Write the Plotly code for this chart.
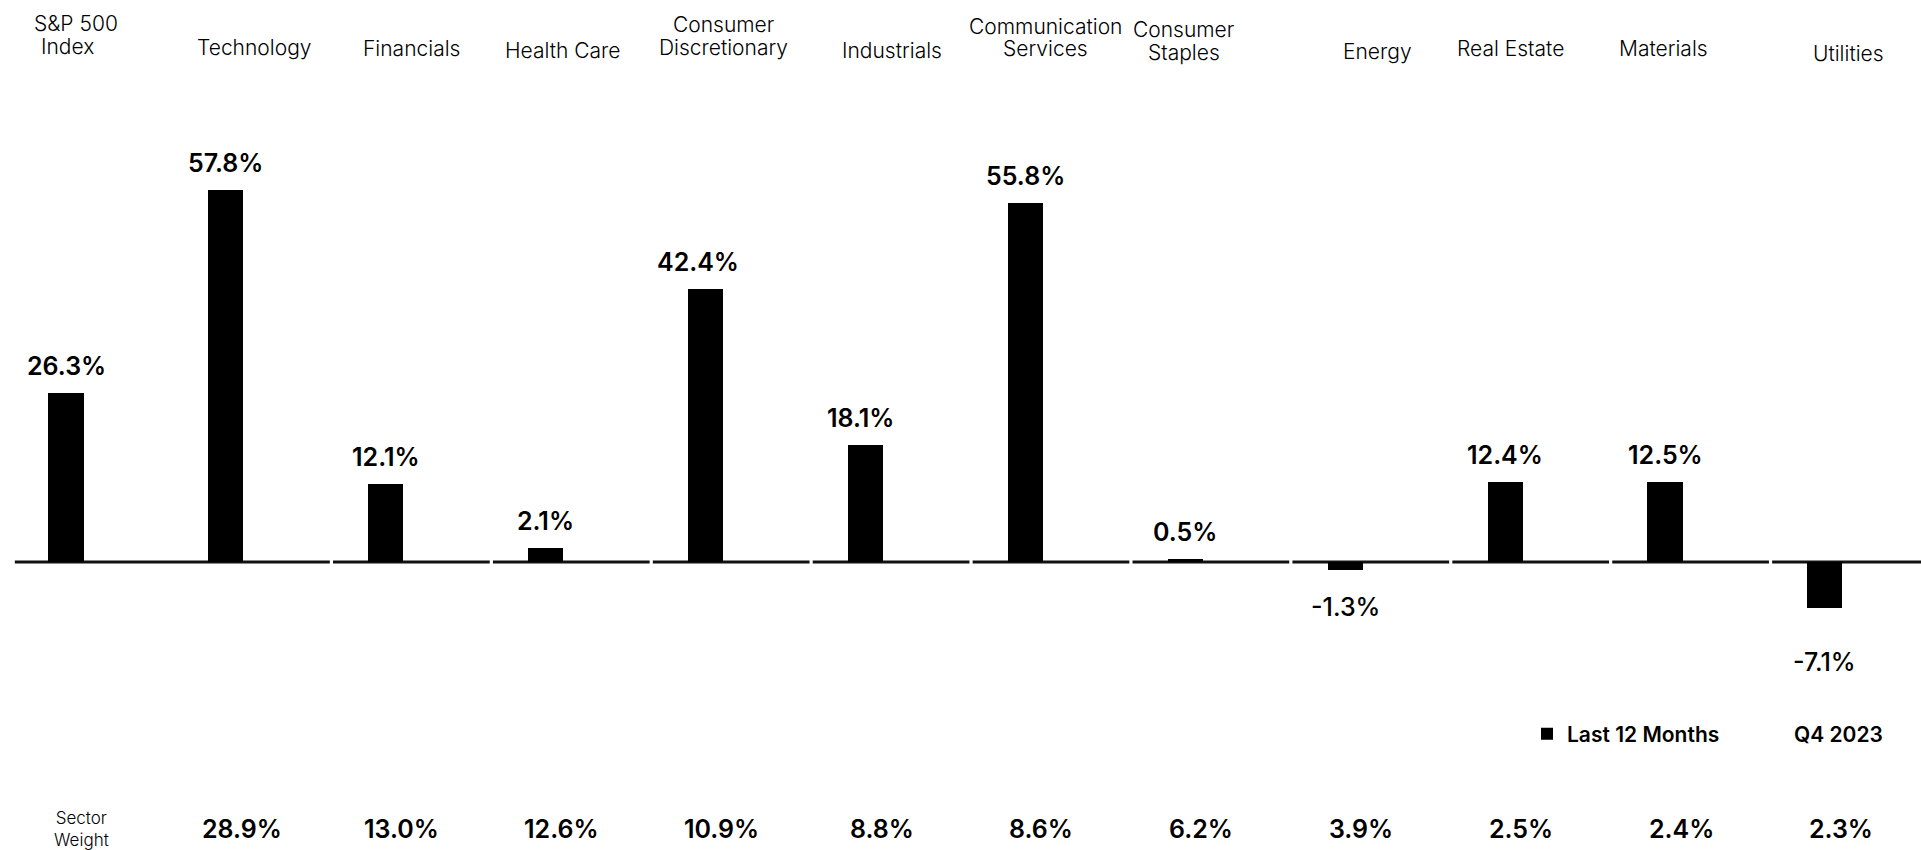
import plotly.graph_objects as go

# Sector returns, trailing twelve months (%)
categories = ["S&P 500<br>Index", "Technology", "Financials", "Health Care",
              "Consumer<br>Discretionary", "Industrials", "Communication<br>Services",
              "Consumer<br>Staples", "Energy", "Real Estate", "Materials", "Utilities"]
returns_12m = [26.3, 57.8, 12.1, 2.1, 42.4, 18.1, 55.8, 0.5, -1.3, 12.4, 12.5, -7.1]
# Index weight of each sector (%); the first column holds the row caption
sector_weight = [None, 28.9, 13.0, 12.6, 10.9, 8.8, 8.6, 6.2, 3.9, 2.5, 2.4, 2.3]
series_name = "Last 12 Months"
period_label = "Q4 2023"
weight_caption = "Sector<br>Weight"

W, H = 1921, 850
FONT = "Inter"
INK = "#000000"

xs = list(range(len(categories)))

fig = go.Figure()
fig.add_trace(go.Bar(
    x=xs, y=returns_12m, name=series_name,
    marker=dict(color=INK, line=dict(width=0)),
    width=0.22, showlegend=True, hoverinfo="skip",
))

# Zero baseline drawn as segments with thin breaks between columns
breaks = [-0.33] + [i + 0.66 for i in range(1, len(categories) - 1)] + [11.62]
shapes = []
for a, b in zip(breaks[:-1], breaks[1:]):
    shapes.append(dict(type="line", xref="x", yref="y", x0=a + 0.01, x1=b - 0.01,
                       y0=0, y1=0, line=dict(color="#111111", width=3), layer="below"))

annotations = []
# Value labels above / below each bar
value_dx = [0, 0, 0, 0, -8, -5, 0, 0, 0, 0, 0, 0]
for i, v in enumerate(returns_12m):
    if v >= 0:
        annotations.append(dict(x=i, y=v, xref="x", yref="y", text=f"{v:.1f}%",
                                showarrow=False, yanchor="bottom", yshift=10,
                                xshift=value_dx[i],
                                font=dict(family=FONT, size=25, color=INK, weight=600)))
    else:
        annotations.append(dict(x=i, y=v, xref="x", yref="y", text=f"{v:.1f}%",
                                showarrow=False, yanchor="top", yshift=-(16 + 3 * abs(v)),
                                xshift=value_dx[i],
                                font=dict(family=FONT, size=25, color=INK, weight=500)))

# Category headings along the top, one annotation per text line
head_dx = [1, 28, 26, 17, 18, 26, 20, -1, 32, 5, -2, 24]
head_y = [46.6, 47.8, 49, 50.2, 47.8, 50.2, 49, 52.7, 51.5, 49, 49, 53.9]
line_step = 23
for i, name in enumerate(categories):
    lines = name.split("<br>")
    for k, line in enumerate(lines):
        y_px = head_y[i] - (len(lines) - 1 - k) * line_step
        ann = dict(x=i, y=1 - y_px / H, xref="x", yref="paper", text=line,
                   showarrow=False, xanchor="center", yanchor="middle",
                   xshift=head_dx[i],
                   font=dict(family=FONT, size=21, color=INK, weight=300))
        if "&" in line:
            # nudge the ampersand line so it sits centred over the column
            ann.update(xshift=head_dx[i] + 9)
        annotations.append(ann)

# Sector weight row at the bottom
annotations.append(dict(x=0, y=1 - 829 / H, xref="x", yref="paper", text=weight_caption,
                        showarrow=False, yanchor="middle", xshift=15,
                        font=dict(family=FONT, size=17, color=INK, weight=300)))
for i, w in enumerate(sector_weight):
    if w is None:
        continue
    annotations.append(dict(x=i, y=1 - 829 / H, xref="x", yref="paper", text=f"{w:.1f}%",
                            showarrow=False, yanchor="middle", xshift=16,
                            font=dict(family=FONT, size=25, color=INK, weight=600)))

annotations.append(dict(x=1838 / W, y=1 - 734 / H, xref="paper", yref="paper",
                        text=period_label, showarrow=False, xanchor="center",
                        yanchor="middle",
                        font=dict(family=FONT, size=21, color=INK, weight=600)))

# Pixel geometry: first column centred at 66 px, 160 px per column, zero at 562 px
px_per_col = 159.9
x_lo = -66 / px_per_col
x_hi = x_lo + W / px_per_col
px_per_pct = 6.44
y_hi = 562 / px_per_pct
y_lo = -(H - 562) / px_per_pct

fig.update_layout(
    width=W, height=H,
    margin=dict(l=0, r=0, t=0, b=0),
    paper_bgcolor="white", plot_bgcolor="white",
    xaxis=dict(range=[x_lo, x_hi], visible=False, fixedrange=True),
    yaxis=dict(range=[y_lo, y_hi], visible=False, fixedrange=True),
    shapes=shapes, annotations=annotations,
    showlegend=True,
    legend=dict(x=1527 / W, y=1 - 734 / H, xanchor="left", yanchor="middle",
                bgcolor="rgba(0,0,0,0)", borderwidth=0,
                font=dict(family=FONT, size=21, color=INK, weight=600),
                itemwidth=30),
    bargap=0,
)

fig.write_html("out.html", include_plotlyjs=True, config={"displayModeBar": False})
